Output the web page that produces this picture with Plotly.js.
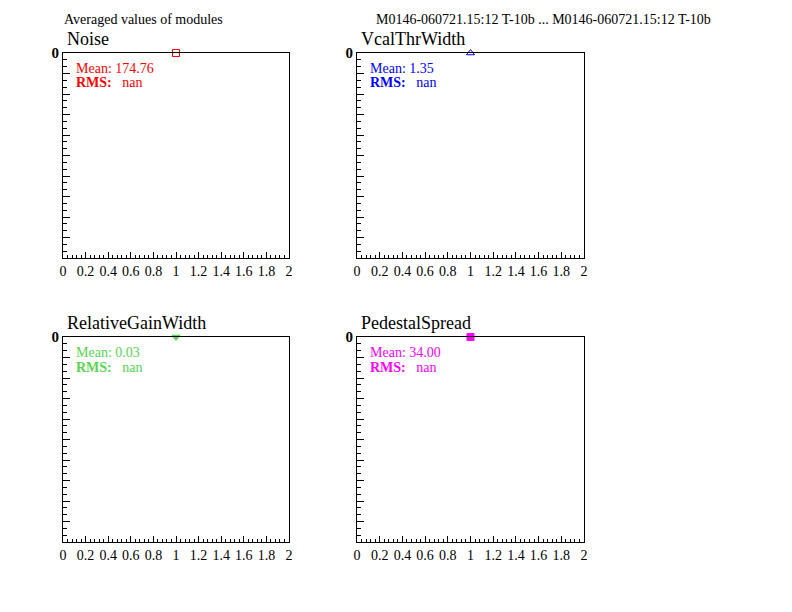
<!DOCTYPE html>
<html>
<head>
<meta charset="utf-8">
<script src="https://cdn.plot.ly/plotly-3.0.1.min.js"></script>
<style>html,body{margin:0;padding:0;background:#fff;}#chart{width:792px;height:612px;}</style>
</head>
<body>
<div id="chart"></div>
<script>
// ---- data ----
const panelNames = ["Noise", "VcalThrWidth", "RelativeGainWidth", "PedestalSpread"];
const pointX = [1, 1, 1, 1];
const pointY = [0, 0, 0, 0];
const meanLabels = ["174.76", "1.35", "0.03", "34.00"];
const rmsLabels = ["nan", "nan", "nan", "nan"];
const xTickVals = [0, 0.2, 0.4, 0.6, 0.8, 1, 1.2, 1.4, 1.6, 1.8, 2];
const xTickText = ["0", "0.2", "0.4", "0.6", "0.8", "1", "1.2", "1.4", "1.6", "1.8", "2"];
const yTickVals = [0, -0.1, -0.2, -0.3, -0.4, -0.5, -0.6, -0.7, -0.8, -0.9, -1];
const yTickText = ["<b>0</b>", "", "", "", "", "", "", "", "", "", ""];
const headerLeft = "Averaged values of modules";
const headerRight = "M0146-060721.15:12 T-10b ... M0146-060721.15:12 T-10b";

// ---- styles ----
const colors = ["#ff0000", "#0000ff", "#59d454", "#ff00ff"];
const symbols = ["square-open", "triangle-up-open", "triangle-down", "square"];
const W = 792, H = 612;
const font = "Liberation Serif, Times New Roman, serif";
// panel pixel boxes [left, right, top, bottom]
const boxes = [[63, 289, 53, 258], [357, 584, 53, 258], [63, 289, 337, 542], [357, 584, 337, 542]];

const traces = [];
const layout = {
  width: W, height: H,
  margin: {l: 0, r: 0, t: 0, b: 0},
  paper_bgcolor: "#fff", plot_bgcolor: "#fff",
  showlegend: false,
  font: {family: font, color: "#000", size: 14},
  annotations: []
};

panelNames.forEach((name, i) => {
  const sfx = i === 0 ? "" : String(i + 1);
  const b = boxes[i];
  traces.push({
    type: "scatter", mode: "markers",
    x: [pointX[i]], y: [pointY[i]],
    xaxis: "x" + sfx, yaxis: "y" + sfx,
    cliponaxis: false,
    marker: {symbol: symbols[i], size: 7, color: colors[i], line: {color: colors[i], width: 1}},
    hoverinfo: "skip"
  });
  layout["xaxis" + sfx] = {
    domain: [b[0] / W, b[1] / W], range: [0, 2], anchor: "y" + sfx,
    tickmode: "array", tickvals: xTickVals, ticktext: xTickText,
    ticks: "inside", ticklen: 6, tickcolor: "#000", tickwidth: 1,
    minor: {ticks: "inside", dtick: 0.04, ticklen: 3, tickcolor: "#000", tickwidth: 1},
    showline: true, linecolor: "#000", linewidth: 1, mirror: true,
    showgrid: false, zeroline: false, fixedrange: true,
    tickfont: {family: font, size: 14, color: "#000"}
  };
  layout["yaxis" + sfx] = {
    domain: [1 - b[3] / H, 1 - b[2] / H], range: [-1, 0], anchor: "x" + sfx,
    tickmode: "array", tickvals: yTickVals, ticktext: yTickText,
    ticks: "inside", ticklen: 7, tickcolor: "#000", tickwidth: 1,
    minor: {ticks: "inside", dtick: 0.1 / 3, tick0: 0, ticklen: 4, tickcolor: "#000", tickwidth: 1},
    showline: true, linecolor: "#000", linewidth: 1, mirror: true,
    showgrid: false, zeroline: false, fixedrange: true,
    tickfont: {family: font, size: 15, color: "#000"}
  };
  layout.annotations.push({
    xref: "paper", yref: "paper", x: (b[0] + 2) / W, y: 1 - (b[2] - 14) / H,
    xanchor: "left", yanchor: "middle", showarrow: false,
    text: name, font: {family: font, size: 18, color: "#000"}
  });
  layout.annotations.push({
    xref: "paper", yref: "paper", x: (b[0] + 11) / W, y: 1 - (b[2] + 15) / H,
    xanchor: "left", yanchor: "middle", showarrow: false,
    text: "Mean: " + meanLabels[i], font: {family: font, size: 14, color: colors[i]}
  });
  layout.annotations.push({
    xref: "paper", yref: "paper", x: (b[0] + 11) / W, y: 1 - (b[2] + 30) / H,
    xanchor: "left", yanchor: "middle", showarrow: false,
    text: "<b>RMS:</b>   " + rmsLabels[i], font: {family: font, size: 14, color: colors[i]}
  });
});

layout.annotations.push({
  xref: "paper", yref: "paper", x: 62 / W, y: 1 - 20 / H,
  xanchor: "left", yanchor: "middle", showarrow: false,
  text: headerLeft, font: {family: font, size: 14, color: "#000"}
});
layout.annotations.push({
  xref: "paper", yref: "paper", x: 374 / W, y: 1 - 20 / H,
  xanchor: "left", yanchor: "middle", showarrow: false,
  text: headerRight, font: {family: font, size: 14, color: "#000"}
});

Plotly.newPlot("chart", traces, layout, {staticPlot: true, displayModeBar: false});
</script>
</body>
</html>
